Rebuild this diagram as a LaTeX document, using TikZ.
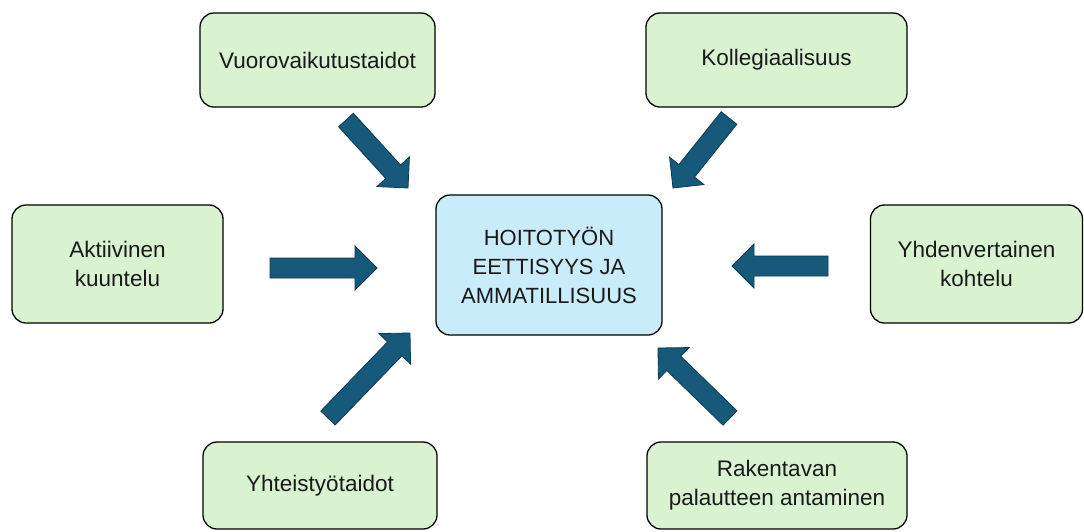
\documentclass[tikz,border=0pt]{standalone}
\usepackage{fontspec}
\setmainfont{Liberation Sans}
\usetikzlibrary{calc}
\definecolor{boxgreen}{HTML}{D9F2D0}
\definecolor{boxblue}{HTML}{C9ECFA}
\definecolor{arrowfill}{HTML}{17597A}
\definecolor{arrowline}{HTML}{0D3A52}
\definecolor{txt}{HTML}{1A1A1A}
\tikzset{
  sidebox/.style={draw=black, line width=1.3pt, rounded corners=14pt, fill=boxgreen,
    align=center, text=txt, font=\fontsize{22.5}{29}\selectfont, inner sep=0pt},
  centerbox/.style={sidebox, fill=boxblue, font=\fontsize{22}{29}\selectfont},
  blockarrow/.style={fill=arrowfill, draw=arrowline, line width=0.8pt, line join=miter},
}
% block arrow from #1 (tail) to #2 (tip)
\newcommand{\blockarr}[2]{%
  \coordinate (hb) at ($(#2)!22pt!(#1)$);
  \draw[blockarrow]
    ($(#1)!10pt!90:(#2)$) --
    ($(hb)!10pt!90:(#2)$) --
    ($(hb)!22pt!90:(#2)$) --
    (#2) --
    ($(hb)!22pt!-90:(#2)$) --
    ($(hb)!10pt!-90:(#2)$) --
    ($(#1)!10pt!-90:(#2)$) -- cycle;
}
\begin{document}
\begin{tikzpicture}[x=1pt,y=-1pt]
\useasboundingbox (0,0) rectangle (1084,531);
\fill[white] (0,0) rectangle (1084,531);

% boxes (corners in pixel coordinates)
\node[sidebox, minimum width=235pt, minimum height=94pt] (vuoro) at (317.5,60) {Vuorovaikutustaidot};
\node[sidebox, minimum width=261pt, minimum height=94pt] (kolle) at (776.5,60) {Kollegiaalisuus};
\node[sidebox, minimum width=211pt, minimum height=118pt] (aktii) at (117.5,264) {Aktiivinen\\kuuntelu};
\node[centerbox, minimum width=226pt, minimum height=140pt] (center) at (549,265) {HOITOTYÖN\\EETTISYYS JA\\AMMATILLISUUS};
\node[sidebox, minimum width=212pt, minimum height=118pt] (yhden) at (976.5,264) {Yhdenvertainen\\kohtelu};
\node[sidebox, minimum width=234pt, minimum height=87pt] (yhteis) at (320,485.5) {Yhteistyötaidot};
\node[sidebox, minimum width=260pt, minimum height=87pt] (raken) at (777,485.5) {Rakentavan\\palautteen antaminen};

% arrow end points
\coordinate (a1s) at (346,120); \coordinate (a1e) at (408,188);
\coordinate (a2s) at (729,118); \coordinate (a2e) at (673,188);
\coordinate (a3s) at (270,268); \coordinate (a3e) at (377,268);
\coordinate (a4s) at (828,266); \coordinate (a4e) at (732,266);
\coordinate (a5s) at (328,418); \coordinate (a5e) at (410,333);
\coordinate (a6s) at (730,418); \coordinate (a6e) at (658,348);

\blockarr{a1s}{a1e}
\blockarr{a2s}{a2e}
\blockarr{a3s}{a3e}
\blockarr{a4s}{a4e}
\blockarr{a5s}{a5e}
\blockarr{a6s}{a6e}
\end{tikzpicture}
\end{document}
